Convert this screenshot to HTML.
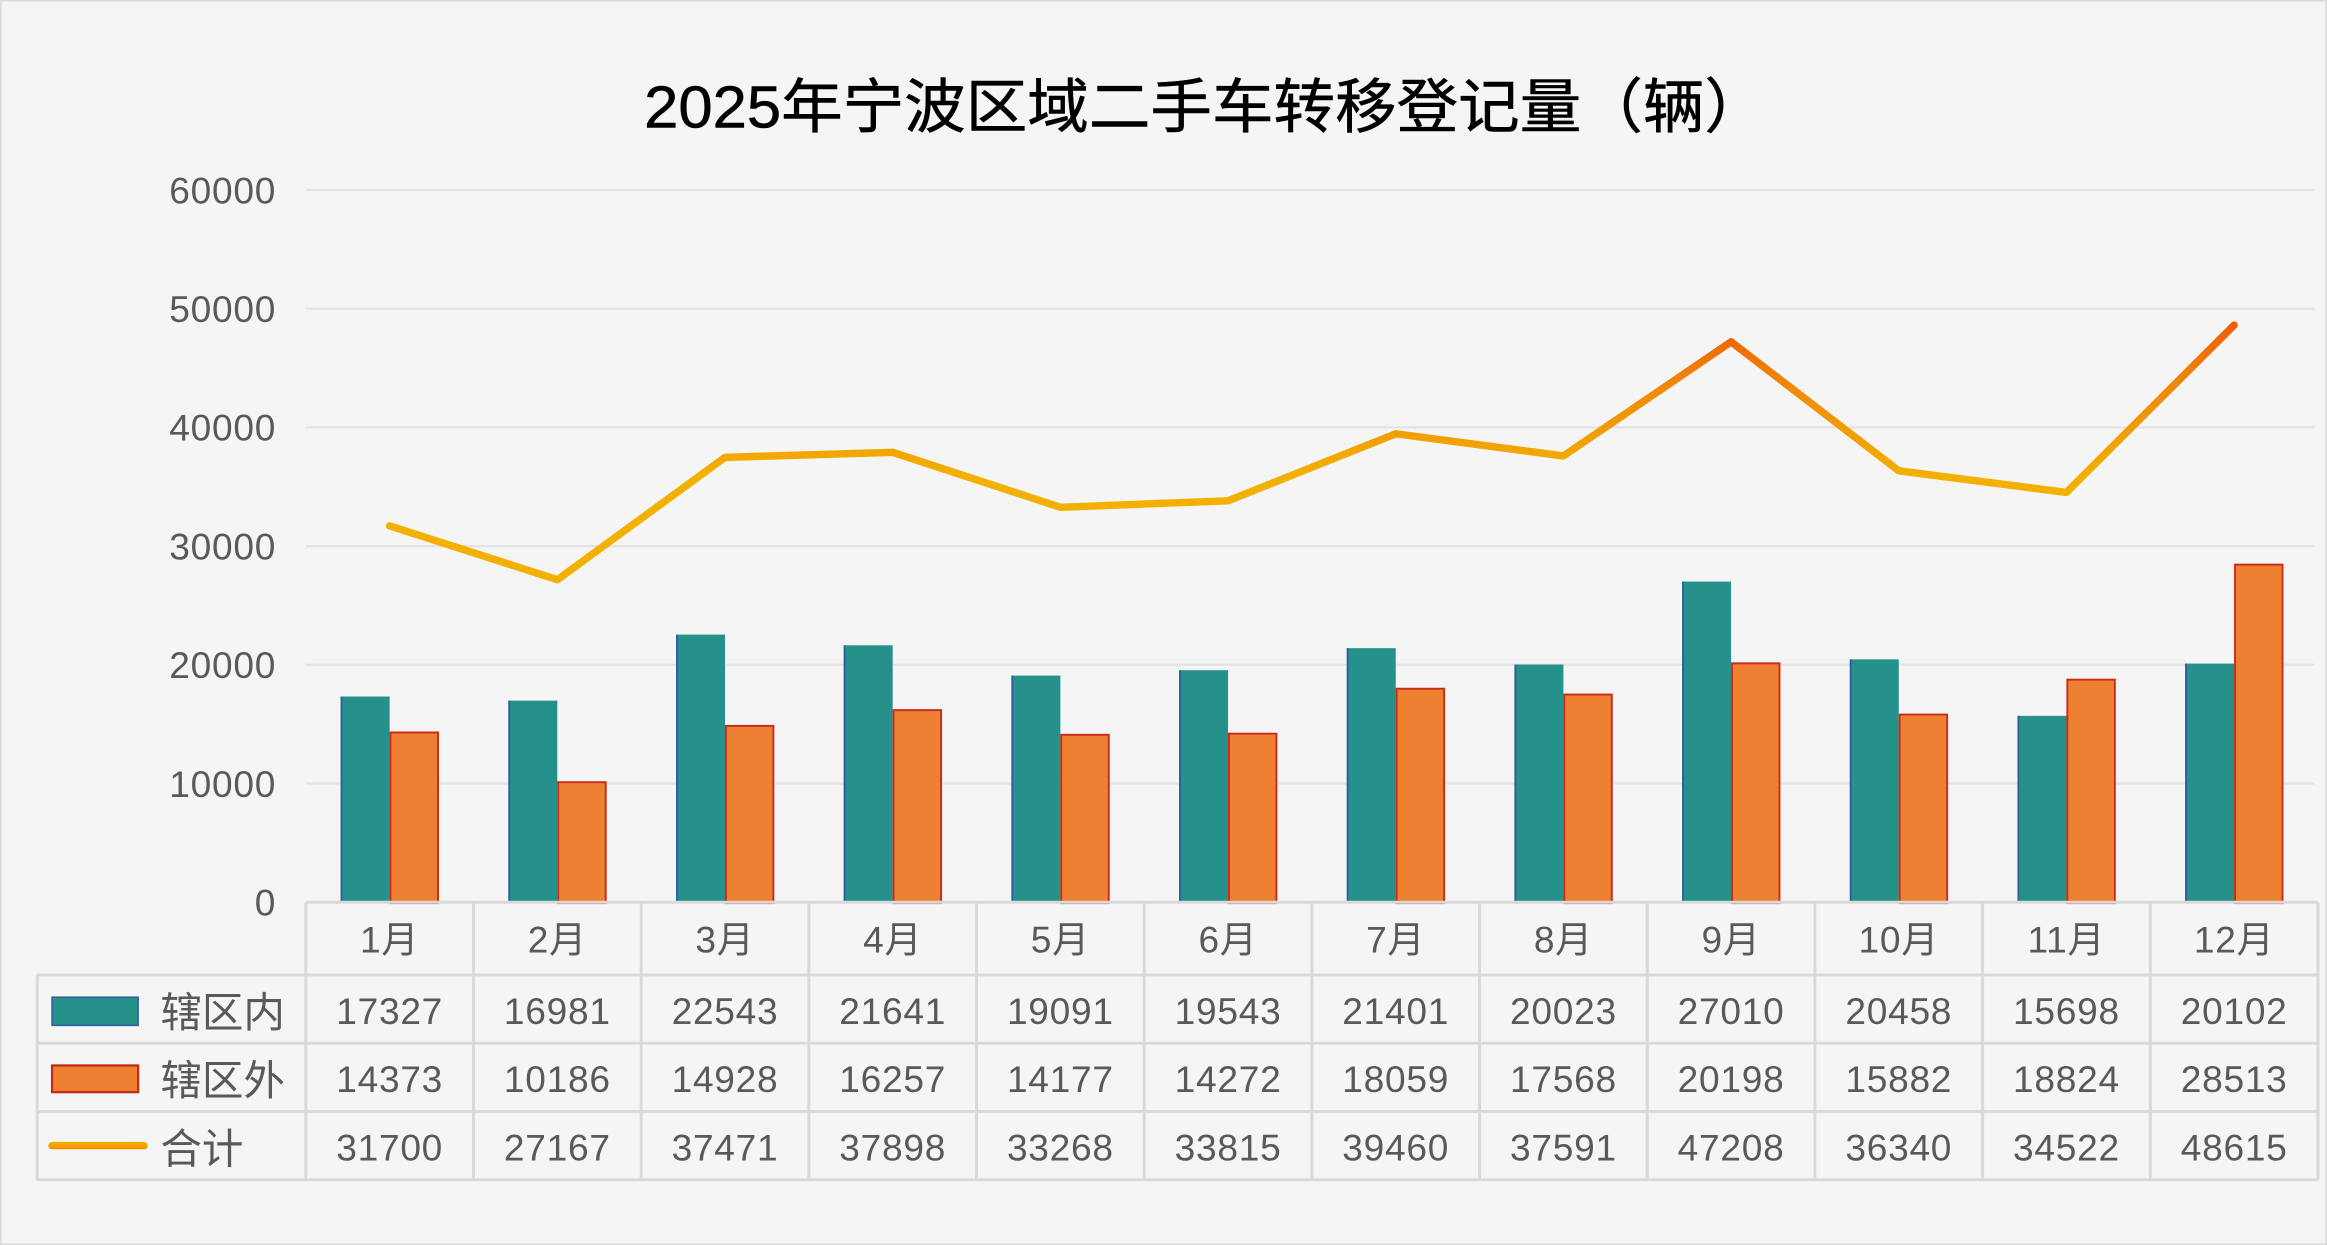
<!DOCTYPE html>
<html><head><meta charset="utf-8"><style>
html,body{margin:0;padding:0;background:#f5f5f5}
svg{display:block}
text{font-family:"Liberation Sans","Noto Sans CJK SC",sans-serif;fill:#595959}
</style></head><body>
<svg width="2327" height="1245" viewBox="0 0 1568 839" xmlns="http://www.w3.org/2000/svg">
<defs>
<linearGradient id="lg" gradientUnits="userSpaceOnUse" x1="0" y1="215" x2="0" y2="320">
<stop offset="0" stop-color="#F05A00"/><stop offset="0.45" stop-color="#F08A08"/><stop offset="1" stop-color="#F2B000"/>
</linearGradient>
<linearGradient id="lg2" gradientUnits="userSpaceOnUse" x1="0" y1="769" x2="0" y2="775">
<stop offset="0" stop-color="#F2B800"/><stop offset="1" stop-color="#F08A00"/>
</linearGradient>
</defs>
<rect x="0.5" y="0.5" width="1567" height="838" fill="#f5f5f5" stroke="#d9d9d9"/>
<text x="812" y="86" text-anchor="middle" font-size="40" style="fill:#000" stroke="#000" stroke-width="0.4" textLength="756" lengthAdjust="spacingAndGlyphs">2025年宁波区域二手车转移登记量（辆）</text>
<g stroke="#e4e4e4" stroke-width="1.5">
<line x1="206" y1="128" x2="1560" y2="128"/><line x1="206" y1="208" x2="1560" y2="208"/>
<line x1="206" y1="288" x2="1560" y2="288"/><line x1="206" y1="368" x2="1560" y2="368"/>
<line x1="206" y1="448" x2="1560" y2="448"/><line x1="206" y1="528" x2="1560" y2="528"/>
</g>
<g font-size="25" text-anchor="end" letter-spacing="0.5">
<text x="186" y="137">60000</text><text x="186" y="217">50000</text><text x="186" y="297">40000</text>
<text x="186" y="377">30000</text><text x="186" y="457">20000</text><text x="186" y="537">10000</text><text x="186" y="617">0</text>
</g>
<g id="bars"></g>
<polyline id="line" fill="none" stroke="url(#lg)" stroke-width="5" stroke-linejoin="round" stroke-linecap="round"/>
<g stroke="#d9d9d9" stroke-width="2" fill="none" id="grid"></g>
<rect x="35" y="672" width="58" height="19" fill="#26918A" stroke="#2E5C9E" stroke-width="1"/>
<rect x="35" y="718" width="58" height="18" fill="#EE8131" stroke="#C8281A" stroke-width="1.5"/>
<line x1="35" y1="772" x2="97" y2="772" stroke="url(#lg2)" stroke-width="5" stroke-linecap="round"/>
<g font-size="28"><text x="108" y="692">辖区内</text><text x="108" y="738">辖区外</text><text x="108" y="784">合计</text></g>
<g id="cells" font-size="25" text-anchor="middle" letter-spacing="0.5"></g>
<script>
var ns="http://www.w3.org/2000/svg";
var a=[17327,16981,22543,21641,19091,19543,21401,20023,27010,20458,15698,20102];
var b=[14373,10186,14928,16257,14177,14272,18059,17568,20198,15882,18824,28513];
var c=[31700,27167,37471,37898,33268,33815,39460,37591,47208,36340,34522,48615];
var x0=206,w=(1562-206)/12,bars=document.getElementById('bars'),cells=document.getElementById('cells'),grid=document.getElementById('grid');
function el(p,t,at,txt){var e=document.createElementNS(ns,t);for(var k in at)e.setAttribute(k,at[k]);if(txt!=null)e.textContent=txt;p.appendChild(e);return e;}
var pts=[];
for(var i=0;i<12;i++){
 var cx=x0+w*i+w/2, ya=608-a[i]*0.008, yb=608-b[i]*0.008;
 el(bars,'rect',{x:cx-33,y:ya,width:33,height:608-ya,fill:'#26918A'});
 el(bars,'rect',{x:cx-33,y:ya,width:1.2,height:608-ya,fill:'#2E5C9E'});
 el(bars,'rect',{x:cx+0.6,y:yb+0.6,width:32,height:608-yb,fill:'#EE8131',stroke:'#CC2A1A','stroke-width':1.3});
 pts.push(cx+','+(608-c[i]*0.008));
 el(cells,'text',{x:cx,y:642},(i+1)+'月');
 el(cells,'text',{x:cx,y:690},a[i]);
 el(cells,'text',{x:cx,y:736},b[i]);
 el(cells,'text',{x:cx,y:782},c[i]);
}
document.getElementById('line').setAttribute('points',pts.join(' '));
for(var i=0;i<=12;i++){var x=x0+w*i;el(grid,'line',{x1:x,y1:608,x2:x,y2:795});}
el(grid,'line',{x1:206,y1:608,x2:1562,y2:608});
[657,703,749,795].forEach(function(y){el(grid,'line',{x1:25,y1:y,x2:1562,y2:y});});
el(grid,'line',{x1:25,y1:657,x2:25,y2:795});
</script>
</svg>
</body></html>
